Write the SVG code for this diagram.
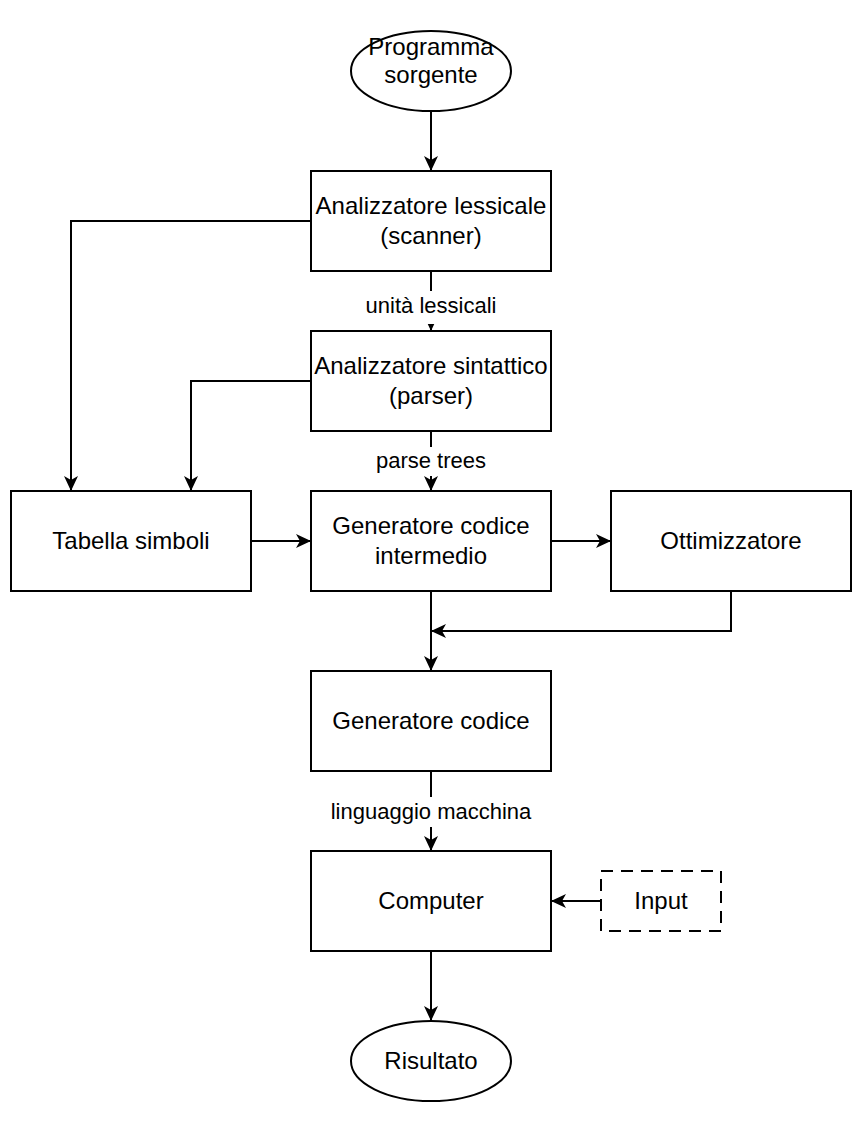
<svg xmlns="http://www.w3.org/2000/svg" width="862" height="1122" viewBox="0 0 862 1122">
<style>
.n{fill:#fff;stroke:#000;stroke-width:2}
.d{fill:#fff;stroke:#000;stroke-width:2;stroke-dasharray:12 8}
.t{font-family:"Liberation Sans",Arial,sans-serif;font-size:24px;fill:#000;text-anchor:middle;dominant-baseline:central}
.l{font-family:"Liberation Sans",Arial,sans-serif;font-size:22px;fill:#000;text-anchor:middle;dominant-baseline:central}
.e{fill:none;stroke:#000;stroke-width:2}
</style>
<defs>
<marker id="a" markerUnits="userSpaceOnUse" markerWidth="16" markerHeight="14" refX="15" refY="7" orient="auto" viewBox="0 0 16 14">
<path d="M0,0 L15,7 L0,14 L4,7 Z" fill="#000"/>
</marker>
</defs>
<rect width="862" height="1122" fill="#fff"/>
<g id="connectors">
<path class="e" d="M431,111 V171" marker-end="url(#a)"/>
<path class="e" d="M311,221 H71 V491" marker-end="url(#a)"/>
<path class="e" d="M311,381 H191 V491" marker-end="url(#a)"/>
<path class="e" d="M431,271 V331" marker-end="url(#a)"/>
<path class="e" d="M431,431 V491" marker-end="url(#a)"/>
<path class="e" d="M251,541 H311" marker-end="url(#a)"/>
<path class="e" d="M551,541 H611" marker-end="url(#a)"/>
<path class="e" d="M431,591 V671" marker-end="url(#a)"/>
<path class="e" d="M731,591 V631 H431" marker-end="url(#a)"/>
<path class="e" d="M431,771 V851" marker-end="url(#a)"/>
<path class="e" d="M601,901 H551" marker-end="url(#a)"/>
<path class="e" d="M431,951 V1021" marker-end="url(#a)"/>
<rect x="355" y="291" width="152" height="33" fill="#fff"/>
<text class="l" x="431" y="305">unità lessicali</text>
<rect x="371" y="447" width="120" height="29" fill="#fff"/>
<text class="l" x="431" y="460">parse trees</text>
<rect x="328" y="797" width="206" height="30" fill="#fff"/>
<text class="l" x="431" y="811">linguaggio macchina</text>
</g>
<g id="programma">
<ellipse class="n" cx="431" cy="71" rx="80" ry="40"/>
<text class="t" x="431" y="46">Programma</text>
<text class="t" x="431" y="74">sorgente</text>
</g>
<g id="lessicale">
<rect class="n" x="311" y="171" width="240" height="100"/>
<text class="t" x="431" y="205">Analizzatore lessicale</text>
<text class="t" x="431" y="235">(scanner)</text>
</g>
<g id="sintattico">
<rect class="n" x="311" y="331" width="240" height="100"/>
<text class="t" x="431" y="365">Analizzatore sintattico</text>
<text class="t" x="431" y="395">(parser)</text>
</g>
<g id="tabella">
<rect class="n" x="11" y="491" width="240" height="100"/>
<text class="t" x="131" y="540">Tabella simboli</text>
</g>
<g id="intermedio">
<rect class="n" x="311" y="491" width="240" height="100"/>
<text class="t" x="431" y="525">Generatore codice</text>
<text class="t" x="431" y="555">intermedio</text>
</g>
<g id="ottimizzatore">
<rect class="n" x="611" y="491" width="240" height="100"/>
<text class="t" x="731" y="540">Ottimizzatore</text>
</g>
<g id="codice">
<rect class="n" x="311" y="671" width="240" height="100"/>
<text class="t" x="431" y="720">Generatore codice</text>
</g>
<g id="computer">
<rect class="n" x="311" y="851" width="240" height="100"/>
<text class="t" x="431" y="900">Computer</text>
</g>
<g id="input">
<rect class="d" x="601" y="871" width="120" height="60"/>
<text class="t" x="661" y="900">Input</text>
</g>
<g id="risultato">
<ellipse class="n" cx="431" cy="1061" rx="80" ry="40"/>
<text class="t" x="431" y="1060">Risultato</text>
</g>
</svg>
